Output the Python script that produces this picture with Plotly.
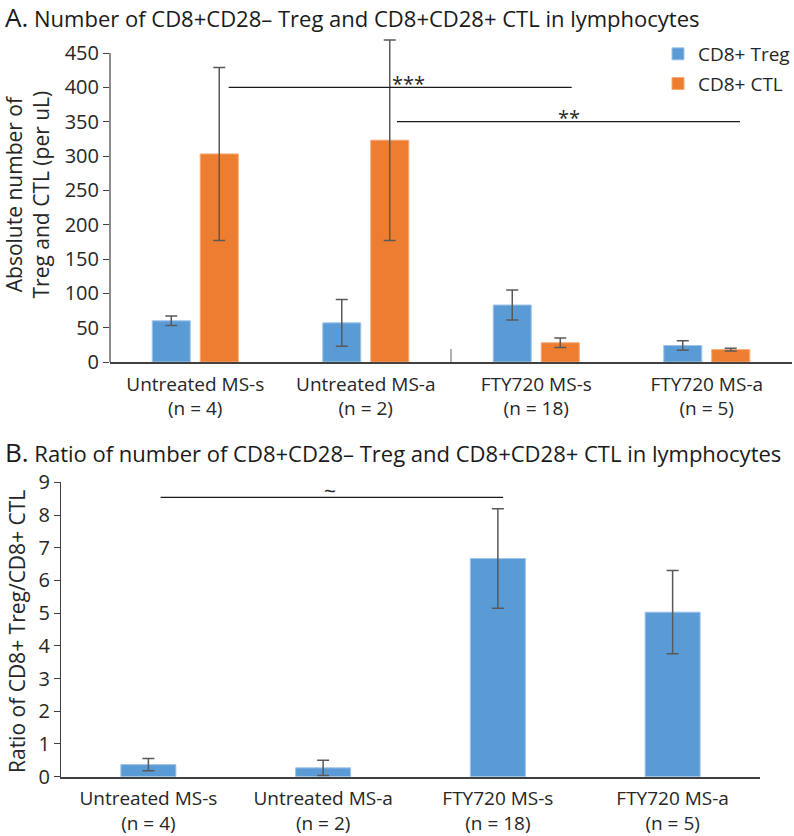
import plotly.graph_objects as go

W, H = 794, 836

# ---------------- data ----------------
categories = ["Untreated MS-s<br>(n = 4)", "Untreated MS-a<br>(n = 2)",
              "FTY720 MS-s<br>(n = 18)", "FTY720 MS-a<br>(n = 5)"]

treg_abs = [60, 57, 83, 24]
treg_abs_err = [7, 34, 22, 7]
ctl_abs = [303, 323, 28, 18]
ctl_abs_err = [126, 146, 7, 2]

ratio = [0.37, 0.27, 6.67, 5.03]
ratio_err = [0.19, 0.23, 1.52, 1.27]

yticks_a = [0, 50, 100, 150, 200, 250, 300, 350, 400, 450]
yticks_b = [0, 1, 2, 3, 4, 5, 6, 7, 8, 9]

# significance brackets: (x0, x1, y, label, label_x, label_y)
sig_a = [(0.196, 2.208, 400, "***", 1.25, 405),
         (1.183, 3.195, 350, "**", 2.19, 356)]
sig_b = [(0.07, 2.03, 8.54, "~", 1.04, 8.72)]

# ---------------- style ----------------
BLUE = "#5B9BD5"
ORANGE = "#ED7D31"
ERR = "#595959"
AX = "#404040"
TXT = "#262626"
FONT = "Open Sans"


def px_x(p):
    return p / W


def px_y(p):
    return (H - p) / H


fig = go.Figure()

err_style = dict(type="data", color=ERR, thickness=1.5, width=6)

fig.add_trace(go.Bar(x=categories, y=treg_abs, name="CD8+ Treg",
                     marker=dict(color=BLUE, line=dict(color="#9fc4ea", width=1)),
                     error_y=dict(array=treg_abs_err, **err_style),
                     xaxis="x", yaxis="y", legendgroup="a"))
fig.add_trace(go.Bar(x=categories, y=ctl_abs, name="CD8+ CTL",
                     marker=dict(color=ORANGE, line=dict(color="#f4a877", width=1)),
                     error_y=dict(array=ctl_abs_err, **err_style),
                     xaxis="x", yaxis="y", legendgroup="b"))
fig.add_trace(go.Bar(x=categories, y=ratio, name="ratio", showlegend=False,
                     marker=dict(color=BLUE, line=dict(color="#9fc4ea", width=1)),
                     error_y=dict(array=ratio_err, **err_style),
                     xaxis="x2", yaxis="y2", width=0.315))

# ---------------- layout ----------------
tickfont = dict(family=FONT, size=19, color=TXT)
ytickfont = dict(family=FONT, size=20, color=TXT)

fig.update_layout(
    width=W, height=H, autosize=False,
    margin=dict(l=0, r=0, t=0, b=0, pad=0, autoexpand=False),
    paper_bgcolor="white", plot_bgcolor="white",
    barmode="group", bargap=0.437, bargroupgap=0.208,
    font=dict(family=FONT, color=TXT),
    showlegend=True,
    legend=dict(x=px_x(658), xanchor="left", y=px_y(35), yanchor="top",
                font=dict(family=FONT, size=19, color=TXT),
                tracegroupgap=2, bgcolor="rgba(0,0,0,0)"),
    xaxis=dict(domain=[px_x(110), px_x(792)], anchor="y", automargin=False,
               showline=True, linecolor=AX, linewidth=1.5, ticklabelstandoff=4,
               ticks="", tickfont=tickfont, showgrid=False, zeroline=False),
    yaxis=dict(domain=[px_y(362), px_y(32.4)], anchor="x", automargin=False,
               range=[0, 480], tickvals=yticks_a, showline=False,
               ticks="outside", ticklen=6, tickcolor=AX, tickwidth=1.2,
               tickfont=ytickfont, showgrid=False, zeroline=False),
    xaxis2=dict(domain=[px_x(61), px_x(760)], anchor="y2", automargin=False,
                showline=True, linecolor=AX, linewidth=1.5, ticklabelstandoff=4,
                ticks="", tickfont=tickfont, showgrid=False, zeroline=False),
    yaxis2=dict(domain=[px_y(776.7), px_y(482.3)], anchor="x2", automargin=False,
                range=[0, 9], tickvals=yticks_b, showline=True,
                linecolor=AX, linewidth=1.2,
                ticks="outside", ticklen=6, tickcolor=AX, tickwidth=1.2,
                tickfont=ytickfont, showgrid=False, zeroline=False),
)

shapes = []
# y axis line for panel A (0..450)
shapes.append(dict(type="line", xref="x domain", yref="y", x0=0, x1=0,
                   y0=0, y1=yticks_a[-1], line=dict(color=AX, width=1.2)))
# category separator tick in panel A
shapes.append(dict(type="line", xref="x", yref="y", x0=1.5, x1=1.5,
                   y0=-15, y1=19, line=dict(color="#7f7f7f", width=1.2)))

annotations = []
for x0, x1, yv, lab, lx, ly in sig_a:
    shapes.append(dict(type="line", xref="x", yref="y", x0=x0, x1=x1, y0=yv, y1=yv,
                       line=dict(color="#1a1a1a", width=1.3)))
    annotations.append(dict(xref="x", yref="y", x=lx, y=ly, text=lab, showarrow=False,
                            font=dict(family=FONT, size=20, color=TXT)))
for x0, x1, yv, lab, lx, ly in sig_b:
    shapes.append(dict(type="line", xref="x2", yref="y2", x0=x0, x1=x1, y0=yv, y1=yv,
                       line=dict(color="#1a1a1a", width=1.3)))
    annotations.append(dict(xref="x2", yref="y2", x=lx, y=ly, text=lab, showarrow=False,
                            font=dict(family=FONT, size=21, color=TXT)))

# panel titles
annotations.append(dict(xref="paper", yref="paper", x=px_x(3), y=px_y(17),
                        xanchor="left", yanchor="middle", showarrow=False,
                        text='<span style="font-size:26px">A.</span> Number of CD8+CD28– Treg and CD8+CD28+ CTL in lymphocytes',
                        font=dict(family=FONT, size=22, color="#1a1a1a")))
annotations.append(dict(xref="paper", yref="paper", x=px_x(3), y=px_y(452),
                        xanchor="left", yanchor="middle", showarrow=False,
                        text='<span style="font-size:26px">B.</span> Ratio of number of CD8+CD28– Treg and CD8+CD28+ CTL in lymphocytes',
                        font=dict(family=FONT, size=22, color="#1a1a1a")))
# y axis titles
annotations.append(dict(xref="paper", yref="paper", x=px_x(27.5), y=px_y(195),
                        xanchor="center", yanchor="middle", showarrow=False, textangle=-90,
                        text="Absolute number of<br>Treg and CTL (per uL)",
                        font=dict(family=FONT, size=21, color=TXT)))
annotations.append(dict(xref="paper", yref="paper", x=px_x(17), y=px_y(632),
                        xanchor="center", yanchor="middle", showarrow=False, textangle=-90,
                        text="Ratio of CD8+ Treg/CD8+ CTL",
                        font=dict(family=FONT, size=21, color=TXT)))

fig.update_layout(shapes=shapes, annotations=annotations)

fig.write_html("out.html", config={"displayModeBar": False},
               post_script="document.body.style.margin='0px';"
                           "document.body.style.overflow='hidden';")
